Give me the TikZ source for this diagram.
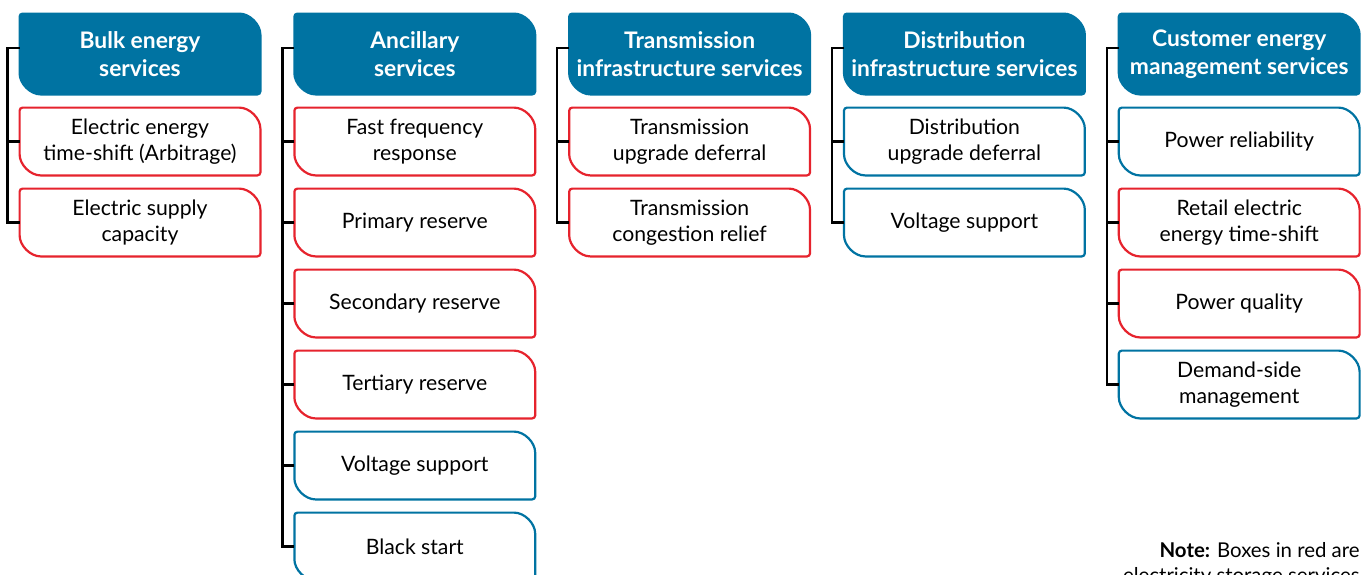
\documentclass[tikz,border=0pt]{standalone}
\usepackage{fontspec}
\setmainfont{Lato}
\usetikzlibrary{positioning,backgrounds}

\definecolor{servblue}{RGB}{0,115,162}
\definecolor{servred}{RGB}{230,35,45}

\tikzset{
    hdr/.style={minimum width=120pt, minimum height=40pt, inner sep=0pt, align=center,
        text=white, font=\bfseries\fontsize{11.4}{14}\selectfont},
    svc/.style={minimum width=120pt, minimum height=33.5pt, inner sep=0pt, align=center,
        font=\fontsize{10.6}{13}\selectfont},
    tree/.style={line width=1.2pt},
    note/.style={align=right, inner sep=0pt, font=\fontsize{10.2}{12.5}\selectfont}
}

% box with two round and two square corners
\newcommand{\tabshape}[3]{%
    \path[draw=#2, fill=#3, line width=1.1pt, rounded corners=1.5pt]
        (#1.north west) -- ([xshift=-12pt]#1.north east)
        arc[start angle=90, end angle=0, radius=12pt]
        -- (#1.south east) -- ([xshift=12pt]#1.south west)
        arc[start angle=270, end angle=180, radius=12pt] -- cycle;}

\begin{document}
\begin{tikzpicture}[node distance=6.6pt and 17pt]
    \useasboundingbox (0,0) rectangle (682pt,-287pt);

    % headers
    \node[hdr] (bulk) at (70pt,-27pt) {Bulk energy\\services};
    \node[hdr, right=of bulk] (anc) {Ancillary\\services};
    \node[hdr, right=of anc] (trans) {Transmission\\infrastructure services};
    \node[hdr, right=of trans] (dist) {Distribution\\infrastructure services};
    \node[hdr, right=of dist] (cust) {Customer energy\\management services};

    % services
    \node[svc, below=of bulk] (bulk1) {Electric energy\\time-shift (Arbitrage)};
    \node[svc, below=of bulk1] (bulk2) {Electric supply\\capacity};

    \node[svc, below=of anc] (anc1) {Fast frequency\\response};
    \node[svc, below=of anc1] (anc2) {Primary reserve};
    \node[svc, below=of anc2] (anc3) {Secondary reserve};
    \node[svc, below=of anc3] (anc4) {Tertiary reserve};
    \node[svc, below=of anc4] (anc5) {Voltage support};
    \node[svc, below=of anc5] (anc6) {Black start};

    \node[svc, below=of trans] (trans1) {Transmission\\upgrade deferral};
    \node[svc, below=of trans1] (trans2) {Transmission\\congestion relief};

    \node[svc, below=of dist] (dist1) {Distribution\\upgrade deferral};
    \node[svc, below=of dist1] (dist2) {Voltage support};

    \node[svc, below=of cust] (cust1) {Power reliability};
    \node[svc, below=of cust1] (cust2) {Retail electric\\energy time-shift};
    \node[svc, below=of cust2] (cust3) {Power quality};
    \node[svc, below=of cust3] (cust4) {Demand-side\\management};

    \node[note, anchor=north east] (note) at (680pt,-271pt)
        {\textbf{Note:} Boxes in red are\\electricity storage services};

    \begin{scope}[on background layer]
        \foreach \n in {bulk,anc,trans,dist,cust}
            \tabshape{\n}{servblue}{servblue};
        \foreach \n in {bulk1,bulk2,anc1,anc2,anc3,anc4,trans1,trans2,cust2,cust3}
            \tabshape{\n}{servred}{white};
        \foreach \n in {anc5,anc6,dist1,dist2,cust1,cust4}
            \tabshape{\n}{servblue}{white};

        % brackets
        \foreach \h/\l in {bulk/bulk2,anc/anc6,trans/trans2,dist/dist2,cust/cust4}
            \draw[tree] ([yshift=3pt]\h.west) -| ([xshift=-6pt]\l.west) -- (\l.west);
        \foreach \n in {bulk1,anc1,anc2,anc3,anc4,anc5,trans1,dist1,cust1,cust2,cust3}
            \draw[tree] (\n.west) -- ++(-6pt,0);
    \end{scope}
\end{tikzpicture}
\end{document}
